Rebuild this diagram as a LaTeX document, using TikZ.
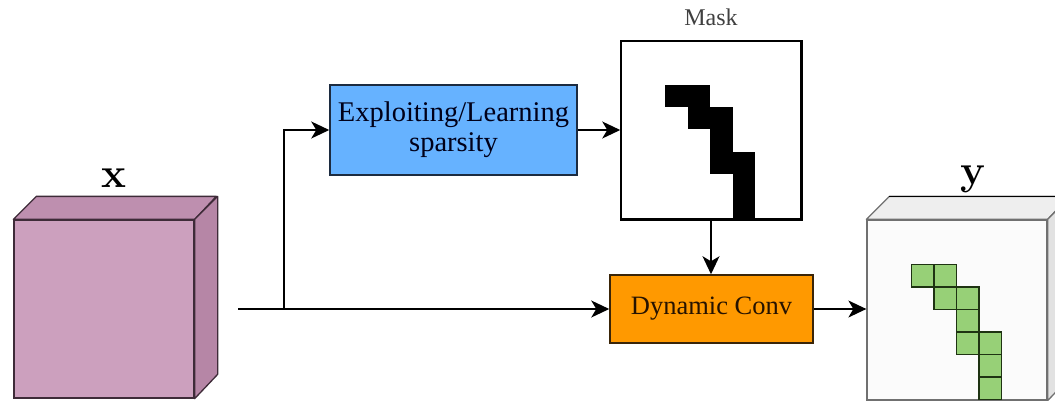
\documentclass[tikz,border=0pt]{standalone}
\usepackage{fontspec}
\newfontfamily\serifT{Liberation Serif}
\usetikzlibrary{arrows.meta,calc}
\definecolor{xfrontc}{HTML}{CCA0BE}
\definecolor{xtopc}{HTML}{BE8FAF}
\definecolor{xrightc}{HTML}{B686A6}
\definecolor{xedge}{HTML}{3E2B38}
\definecolor{yfrontc}{HTML}{FBFBFB}
\definecolor{ytopc}{HTML}{EEEEEE}
\definecolor{yrightc}{HTML}{E2E2E2}
\definecolor{yedge}{HTML}{707070}
\definecolor{bluec}{HTML}{66B2FF}
\definecolor{bluedge}{HTML}{1C2B40}
\definecolor{orangec}{HTML}{FF9900}
\definecolor{orangedge}{HTML}{3A2508}
\definecolor{greenc}{HTML}{97D077}
\definecolor{greenedge}{HTML}{1E3312}
\tikzset{
  arr/.style={draw=black, line width=1.5pt, -{Stealth[length=18pt,width=17pt,inset=5pt]}},
  procbox/.style={draw, line width=1.5pt, inner sep=0pt, align=center},
  cubelabel/.style={font=\fontsize{42}{42}\selectfont\bfseries, inner sep=0pt, anchor=base},
}
\begin{document}
\begin{tikzpicture}[x=1pt,y=-1pt]
\useasboundingbox (0,0) rectangle (1055,400);
\clip (0,0) rectangle (1055,400);

% ---------- input cube x ----------
\node[draw=xedge, fill=xfrontc, line width=1.3pt, minimum width=180pt, minimum height=178pt, inner sep=0pt] (xf) at (104,309) {};
\filldraw[draw=xedge, fill=xtopc, line width=1.3pt, line join=round] (xf.north west) -- ++(23,-23) -- ++(180,0) -- (xf.north east) -- cycle;
\filldraw[draw=xedge, fill=xrightc, line width=1.3pt, line join=round] (xf.north east) -- ++(23,-23) -- ++(0,178) -- (xf.south east) -- cycle;
\node[cubelabel] (xl) at (114,187) {x};

% ---------- processing boxes ----------
\node[procbox, draw=bluedge, fill=bluec, minimum width=247pt, minimum height=90pt,
      font=\serifT\fontsize{28.5}{30}\selectfont, text=black!90!blue] (learn) at (453.5,130) {Exploiting/Learning\\sparsity};

\node[draw=black, line width=1.5pt, fill=white, minimum width=180pt, minimum height=178pt, inner sep=0pt] (mask) at (711,130) {};
\node[font=\serifT\fontsize{24}{24}\selectfont, text=black!75, anchor=base] (maskl) at (711,25) {Mask};
\begin{scope}[shift={(mask.north west)}]
  \foreach \c/\r in {2/2,3/2,3/3,4/3,4/4,4/5,5/5,5/6,5/7}
    \fill[black] (\c*22.5,\r*22.25) rectangle ++(22.6,22.35);
\end{scope}
\draw[line width=1.5pt] (mask.north west) rectangle (mask.south east);

\node[procbox, draw=orangedge, fill=orangec, minimum width=203pt, minimum height=68pt,
      font=\serifT\fontsize{26.5}{28}\selectfont, text=black!85!orange] (dyn) at (711.5,309) {Dynamic Conv};

% ---------- output cube y ----------
\node[draw=yedge, fill=yfrontc, line width=1.3pt, minimum width=180pt, minimum height=180pt, inner sep=0pt] (yf) at (957,310) {};
\filldraw[draw=yedge, fill=ytopc, line width=1.3pt, line join=round] (yf.north west) -- ++(23,-23) -- ++(180,0) -- (yf.north east) -- cycle;
\filldraw[draw=yedge, fill=yrightc, line width=1.3pt, line join=round] (yf.north east) -- ++(23,-23) -- ++(0,180) -- (yf.south east) -- cycle;
\draw[black, line width=1.4pt] ($(yf.north west)+(23,-23)$) -- ++(180,0);
\begin{scope}[shift={(yf.north west)}]
  \foreach \c/\r in {2/2,3/2,3/3,4/3,4/4,4/5,5/5,5/6,5/7}
    \filldraw[fill=greenc, draw=greenedge, line width=1.4pt] (\c*22.5,\r*22.5) rectangle ++(22.5,22.5);
\end{scope}
\node[cubelabel] (yl) at (973,184) {y};

% ---------- connectors ----------
\coordinate (start) at (238,309);
\coordinate (branch) at (284,309);
\draw[arr] (start) -- (dyn.west);
\draw[arr] (branch) |- (learn.west);
\draw[arr] (learn.east) -- (mask.west);
\draw[arr] (mask.south) -- (mask.south |- dyn.north);
\draw[arr] (dyn.east) -- (dyn.east -| yf.west);
\end{tikzpicture}
\end{document}
